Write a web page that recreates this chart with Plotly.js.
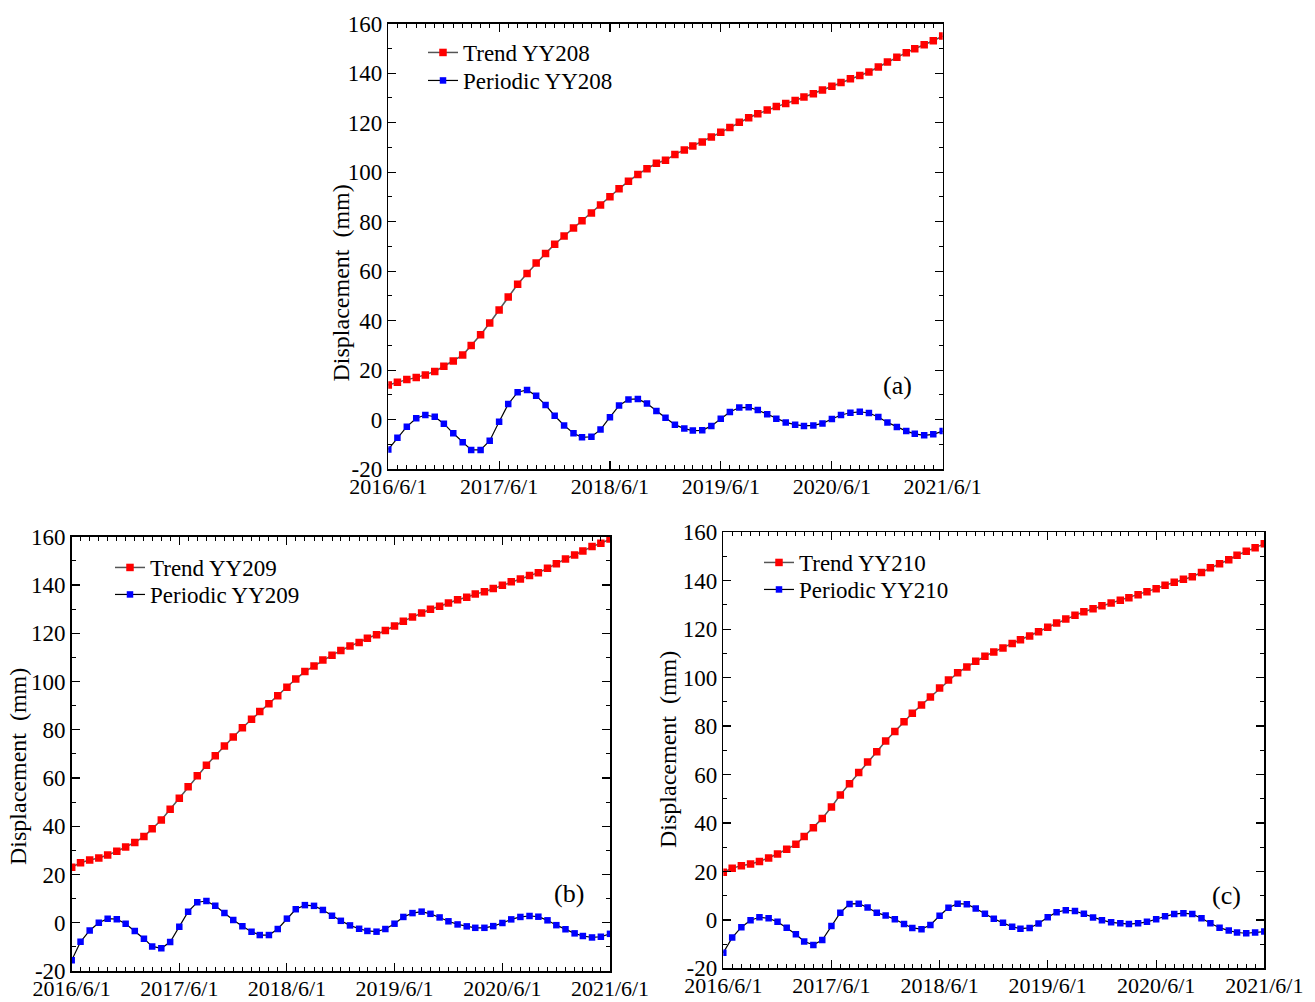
<!DOCTYPE html>
<html>
<head>
<meta charset="utf-8">
<script src="https://cdn.plot.ly/plotly-3.0.1.min.js"></script>
<style>html,body{margin:0;padding:0;background:#fff;}#chart{width:1315px;height:1002px;}</style>
</head>
<body>
<div id="chart"></div>
<script>
const dates = [
'2016-06-01','2016-07-01','2016-08-01','2016-09-01','2016-10-01','2016-11-01','2016-12-01',
'2017-01-01','2017-02-01','2017-03-01','2017-04-01','2017-05-01','2017-06-01','2017-07-01','2017-08-01','2017-09-01','2017-10-01','2017-11-01','2017-12-01',
'2018-01-01','2018-02-01','2018-03-01','2018-04-01','2018-05-01','2018-06-01','2018-07-01','2018-08-01','2018-09-01','2018-10-01','2018-11-01','2018-12-01',
'2019-01-01','2019-02-01','2019-03-01','2019-04-01','2019-05-01','2019-06-01','2019-07-01','2019-08-01','2019-09-01','2019-10-01','2019-11-01','2019-12-01',
'2020-01-01','2020-02-01','2020-03-01','2020-04-01','2020-05-01','2020-06-01','2020-07-01','2020-08-01','2020-09-01','2020-10-01','2020-11-01','2020-12-01',
'2021-01-01','2021-02-01','2021-03-01','2021-04-01','2021-05-01','2021-06-01'];

const trendYY208 = [14.0,15.1,16.2,17.0,18.1,19.5,21.6,23.7,26.1,30.0,34.3,39.1,44.3,49.6,54.7,59.1,63.3,67.2,70.9,74.2,77.5,80.4,83.5,86.7,90.1,93.3,96.3,99.1,101.4,103.6,104.8,
107.2,109.0,110.6,112.2,114.2,116.1,118.1,120.2,122.0,123.6,125.1,126.5,127.8,129.0,130.4,131.7,133.2,134.7,136.2,137.8,139.1,140.5,142.5,144.5,146.4,148.3,149.9,151.5,153.1,155.0];
const periodicYY208 = [-12.0,-7.3,-2.8,0.6,1.9,1.2,-1.6,-5.5,-9.1,-12.2,-12.2,-8.5,-0.8,6.3,11.1,12.0,9.7,5.9,1.6,-2.3,-5.5,-7.1,-6.9,-4.0,1.0,5.7,8.2,8.4,6.5,3.5,0.8,
-2.0,-3.6,-4.4,-4.3,-2.5,0.4,3.1,4.9,5.0,3.9,2.2,0.4,-1.1,-2.0,-2.5,-2.3,-1.5,0.3,1.9,2.8,3.2,2.7,1.1,-1.1,-2.9,-4.6,-5.7,-6.3,-5.9,-4.6];

const trendYY209 = [23.0,24.9,26.0,26.8,28.1,29.6,31.4,33.3,35.7,39.0,42.6,47.0,51.6,56.4,60.9,65.3,69.2,73.3,77.0,80.8,84.3,87.6,90.8,94.1,97.6,101.0,104.1,106.4,108.9,110.9,112.8,
114.7,116.2,117.9,119.4,121.1,123.0,125.0,126.7,128.4,129.9,131.2,132.5,133.9,134.9,136.2,137.2,138.5,139.9,141.3,142.5,143.9,145.1,146.9,148.8,150.8,152.4,154.1,155.9,157.3,159.0];
const periodicYY209 = [-15.5,-7.9,-3.2,0.0,1.7,1.5,-0.4,-3.4,-6.6,-9.8,-10.6,-8.0,-1.7,4.6,8.5,9.0,7.0,4.0,1.1,-1.5,-3.7,-5.1,-5.1,-2.6,1.7,5.6,7.3,7.0,5.3,2.9,0.8,
-1.1,-2.5,-3.4,-3.7,-2.6,-0.4,2.4,4.0,4.6,3.7,2.2,0.6,-0.7,-1.5,-2.1,-2.1,-1.4,-0.1,1.4,2.4,2.8,2.5,1.0,-1.0,-2.7,-4.4,-5.5,-6.1,-5.8,-4.6];

const trendYY210 = [19.7,21.3,22.4,23.1,24.1,25.6,27.2,29.2,31.2,34.4,38.0,41.9,46.6,51.6,56.2,60.8,65.2,69.4,73.8,77.8,81.8,85.3,88.7,92.0,95.7,99.0,102.0,104.4,106.7,108.8,110.6,
112.2,114.1,115.6,117.2,118.9,120.8,122.5,124.2,125.7,127.2,128.4,129.7,130.8,131.9,133.0,134.2,135.4,136.7,138.1,139.3,140.6,141.6,143.4,145.3,147.0,148.6,150.5,152.1,153.6,155.2];
const periodicYY210 = [-13.5,-7.3,-3.0,-0.1,1.1,0.7,-0.8,-3.2,-5.9,-8.9,-10.3,-8.3,-2.5,3.0,6.6,6.7,5.1,3.0,1.8,0.3,-1.7,-3.3,-3.8,-2.1,1.7,5.0,6.7,6.5,4.7,2.5,0.5,
-1.2,-2.8,-3.6,-3.3,-1.5,1.1,3.2,4.0,3.7,2.5,1.0,-0.1,-1.0,-1.4,-1.7,-1.4,-0.8,0.3,1.5,2.4,2.8,2.4,0.7,-1.4,-3.2,-4.4,-5.2,-5.5,-5.2,-4.8];

const yTickVals = [-20,0,20,40,60,80,100,120,140,160];
const yTickText = ['-20','0','20','40','60','80','100','120','140','160'];
const xTickVals = ['2016-06-01','2017-06-01','2018-06-01','2019-06-01','2020-06-01','2021-06-01'];
const xTickText = ['2016/6/1','2017/6/1','2018/6/1','2019/6/1','2020/6/1','2021/6/1'];

const stations = ['YY208','YY209','YY210'];
const panelLabels = ['(a)','(b)','(c)'];
const yTitle = 'Displacement\u00a0\u00a0(mm)';

const FONT = 'Liberation Serif, Times New Roman, serif';
const W = 1315, H = 1002;
// plot boxes in pixels: [left, right, top, bottom]
const boxes = [[388.3,942.7,23.7,469.2],[71.7,610,536.7,971],[723.3,1264.3,532.2,968.4]];

const trendSets = [trendYY208, trendYY209, trendYY210];
const periodicSets = [periodicYY208, periodicYY209, periodicYY210];

const traces = [];
const layout = {
  width: W, height: H,
  margin: {l:0, r:0, t:0, b:0},
  paper_bgcolor: '#fff', plot_bgcolor: '#fff',
  font: {family: FONT, size: 23, color: '#000'},
  showlegend: true,
  annotations: []
};

// legend text start x, and centre y of first/second entry
const legendText = [[463,53,81],[150,568,595],[799,563,590]];
const titlePos = [[340,283.5],[18,767],[668,750]];
const labelPos = [[897,385],[569,893],[1226,895]];

function legendBox(x, yc) {
  return {
    x: (x - 40)/W, y: 1 - (yc - 22)/H, xanchor: 'left', yanchor: 'top',
    bgcolor: 'rgba(0,0,0,0)', borderwidth: 0,
    font: {family: FONT, size: 23, color: '#000'}
  };
}

for (let i = 0; i < 3; i++) {
  const sfx = i === 0 ? '' : String(i+1);
  const xa = 'x' + sfx, ya = 'y' + sfx;
  const lgT = i === 0 ? 'legend' : 'legend' + (2*i+1);
  const lgP = 'legend' + (2*i+2);
  traces.push({
    x: dates, y: trendSets[i], xaxis: xa, yaxis: ya, legend: lgT,
    type: 'scatter', mode: 'lines+markers', name: 'Trend ' + stations[i],
    line: {color: '#555555', width: 1.5},
    marker: {symbol: 'square', size: 7.5, color: '#ff0000', line: {width: 0}}
  });
  traces.push({
    x: dates, y: periodicSets[i], xaxis: xa, yaxis: ya, legend: lgP,
    type: 'scatter', mode: 'lines+markers', name: 'Periodic ' + stations[i],
    line: {color: '#000000', width: 1.2},
    marker: {symbol: 'square', size: 6.5, color: '#0000ff', line: {width: 0}}
  });
  const b = boxes[i];
  layout['xaxis' + sfx] = {
    domain: [b[0]/W, b[1]/W], anchor: ya,
    type: 'date', range: ['2016-06-01', '2021-06-01'],
    tickmode: 'array', tickvals: xTickVals, ticktext: xTickText,
    ticks: 'inside', ticklen: 8, tickwidth: 1.2, tickcolor: '#000',
    minor: {tickmode: 'linear', tick0: '2016-06-01', dtick: 'M1', ticks: 'inside', ticklen: 4, tickwidth: 1, tickcolor: '#000'},
    showline: true, linecolor: '#000', linewidth: 1.5, mirror: 'ticks',
    showgrid: false, zeroline: false,
    tickfont: {family: FONT, size: 22, color: '#000'},
    ticklabelstandoff: -3,
    ticklabeloverflow: 'allow'
  };
  layout['yaxis' + sfx] = {
    domain: [1 - b[3]/H, 1 - b[2]/H], anchor: xa,
    range: [-20, 160],
    tickmode: 'array', tickvals: yTickVals, ticktext: yTickText,
    ticks: 'inside', ticklen: 8, tickwidth: 1.2, tickcolor: '#000',
    minor: {tickmode: 'linear', tick0: 0, dtick: 10, ticks: 'inside', ticklen: 4, tickwidth: 1, tickcolor: '#000'},
    showline: true, linecolor: '#000', linewidth: 1.5, mirror: 'ticks',
    showgrid: false, zeroline: false,
    tickfont: {family: FONT, size: 23, color: '#000'}
  };
  layout[lgT] = legendBox(legendText[i][0], legendText[i][1]);
  layout[lgP] = legendBox(legendText[i][0], legendText[i][2]);
  layout.annotations.push({
    xref: 'paper', yref: 'paper', x: titlePos[i][0]/W, y: 1 - titlePos[i][1]/H,
    text: yTitle, textangle: -90, showarrow: false,
    font: {family: FONT, size: 24, color: '#000'}, xanchor: 'center', yanchor: 'middle'
  });
  layout.annotations.push({
    xref: 'paper', yref: 'paper', x: labelPos[i][0]/W, y: 1 - labelPos[i][1]/H,
    text: panelLabels[i], showarrow: false,
    font: {family: FONT, size: 26, color: '#000'}, xanchor: 'center', yanchor: 'middle'
  });
}

Plotly.newPlot('chart', traces, layout, {displayModeBar: false, staticPlot: true});
</script>
</body>
</html>
